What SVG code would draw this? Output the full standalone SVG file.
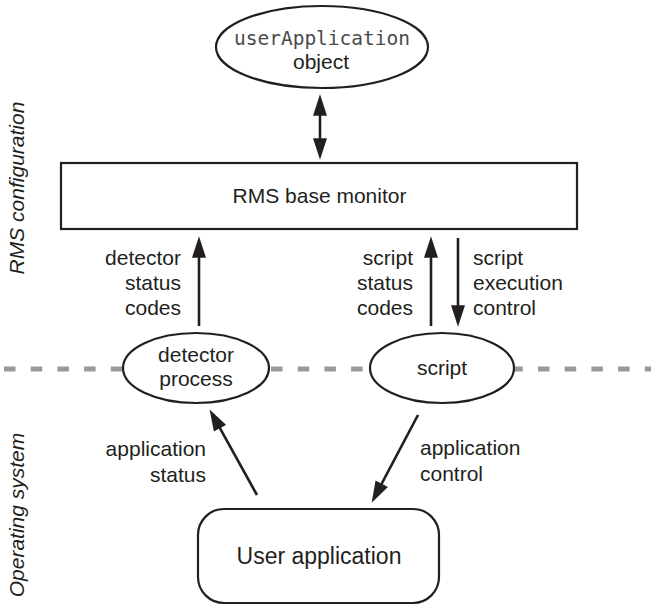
<svg xmlns="http://www.w3.org/2000/svg" width="651" height="605" viewBox="0 0 651 605">
<style>
.lbl{font-family:"Liberation Sans",Arial,sans-serif;font-size:21px;fill:#231f20}
.side{font-family:"Liberation Sans",Arial,sans-serif;font-size:21px;font-style:italic;fill:#231f20}
.mono{font-family:"DejaVu Sans Mono","Liberation Mono",monospace;font-size:19.5px;fill:#4a4a4a}
.shape{fill:#fff;stroke:#231f20;stroke-width:2.2}
.conn{fill:none;stroke:#231f20;stroke-width:2.6}
</style>
<defs>
<marker id="ah" markerUnits="userSpaceOnUse" markerWidth="22" markerHeight="14" refX="10" refY="6.5" orient="auto-start-reverse" viewBox="0 0 20 13">
<path d="M0,0 L20,6.5 L0,13 z" fill="#231f20"/>
</marker>
</defs>
<line x1="4" y1="369" x2="651" y2="369" stroke="#999" stroke-width="5" stroke-dasharray="11.5 15.2"/>
<text class="side" transform="translate(24,188) rotate(-90)" text-anchor="middle">RMS configuration</text>
<text class="side" transform="translate(24,515) rotate(-90)" text-anchor="middle">Operating system</text>
<g id="userApplicationObject">
<ellipse class="shape" cx="322" cy="47" rx="106" ry="41"/>
<text class="mono" x="322" y="45" text-anchor="middle">userApplication</text>
<text class="lbl" x="321" y="69" text-anchor="middle">object</text>
</g>
<g id="baseMonitor">
<rect class="shape" x="61" y="163" width="516" height="66"/>
<text class="lbl" x="319.5" y="203" text-anchor="middle">RMS base monitor</text>
</g>
<g id="detectorProcess">
<ellipse class="shape" cx="196" cy="368" rx="73" ry="35"/>
<text class="lbl" x="196" y="362" text-anchor="middle">detector</text>
<text class="lbl" x="196" y="386" text-anchor="middle">process</text>
</g>
<g id="script">
<ellipse class="shape" cx="442" cy="368" rx="72" ry="35"/>
<text class="lbl" x="442" y="375" text-anchor="middle">script</text>
</g>
<g id="userApplication">
<rect class="shape" x="198" y="509" width="241" height="94" rx="26"/>
<text class="lbl" x="319" y="564" text-anchor="middle" style="font-size:23px">User application</text>
</g>
<g id="connectors">
<path class="conn" d="M320,105 L320,149" marker-start="url(#ah)" marker-end="url(#ah)"/>
<path class="conn" d="M199,326 L199,247" marker-end="url(#ah)"/>
<path class="conn" d="M431,326 L431,247" marker-end="url(#ah)"/>
<path class="conn" d="M458,238 L458,316" marker-end="url(#ah)"/>
<path class="conn" d="M257,495 L214.8,418.8" marker-end="url(#ah)"/>
<path class="conn" d="M418,415 L376.7,493.2" marker-end="url(#ah)"/>
</g>
<g id="labels">
<text class="lbl" x="181" y="265" text-anchor="end">detector</text>
<text class="lbl" x="181" y="290" text-anchor="end">status</text>
<text class="lbl" x="181" y="315" text-anchor="end">codes</text>
<text class="lbl" x="413" y="265" text-anchor="end">script</text>
<text class="lbl" x="413" y="290" text-anchor="end">status</text>
<text class="lbl" x="413" y="315" text-anchor="end">codes</text>
<text class="lbl" x="473" y="265">script</text>
<text class="lbl" x="473" y="290">execution</text>
<text class="lbl" x="473" y="315">control</text>
<text class="lbl" x="206" y="456" text-anchor="end">application</text>
<text class="lbl" x="206" y="482" text-anchor="end">status</text>
<text class="lbl" x="420" y="455">application</text>
<text class="lbl" x="420" y="481">control</text>
</g>
</svg>
